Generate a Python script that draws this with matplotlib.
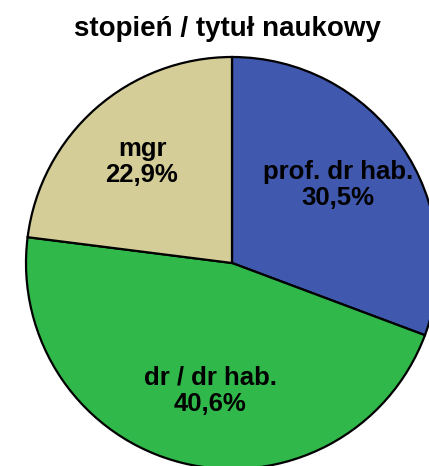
import matplotlib
matplotlib.use("Agg")
import matplotlib.pyplot as plt

# Data
categories = ["prof. dr hab.", "dr / dr hab.", "mgr"]
shares = [30.7, 46.3, 23.0]          # slice sizes as drawn
pct_labels = ["30,5%", "40,6%", "22,9%"]  # percentages as printed
colors = ["#4058AD", "#31B84B", "#D4CD98"]
title = "stopień / tytuł naukowy"

plt.rcParams['font.family'] = ['Liberation Sans', 'DejaVu Sans']

W, H = 429, 466
fig = plt.figure(figsize=(W / 100, H / 100), dpi=100)
ax = fig.add_axes([0, 0, 1, 1])
ax.set_xlim(0, W)
ax.set_ylim(0, H)
ax.set_aspect('equal')
ax.axis('off')

cx, cy, r = 232, H - 263, 206
wedges, _ = ax.pie(shares, colors=colors, startangle=90, counterclock=False,
                   center=(cx, cy), radius=r, frame=True,
                   wedgeprops=dict(edgecolor='black', linewidth=1.6))
ax.set_xlim(0, W)
ax.set_ylim(0, H)
ax.axis('off')

label_pos = [(338, H - 185), (210, H - 391), (142, H - 162)]
for (x, y), cat, p in zip(label_pos, categories, pct_labels):
    ax.text(x, y, f"{cat}\n{p}", ha='center', va='center', fontsize=18.5,
            fontweight='bold', linespacing=1.15)

fig.text(227 / W, 1 - 29 / H, title, ha='center', va='center',
         fontsize=20, fontweight='bold')

fig.savefig("out.png", dpi=100)
